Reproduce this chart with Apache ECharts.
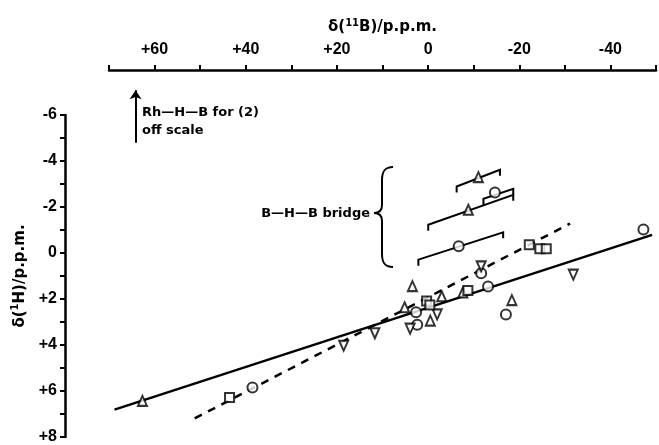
<!DOCTYPE html>
<html>
<head>
<meta charset="utf-8">
<script src="https://cdn.jsdelivr.net/npm/echarts@6/dist/echarts.min.js"></script>
<style>
  html, body { margin: 0; padding: 0; background: #fff; }
  #chart { width: 659px; height: 445px; }
</style>
</head>
<body>
<div id="chart"></div>
<script>
// x = δ(11B) / p.p.m., y = δ(1H) / p.p.m.
var circleX = [38.7, 3.0, 2.75, -11.2, -12.7, -16.6, -46.6, -14.2, -6.3];
var circleY = [5.85, 2.58, 3.12, 0.88, 1.46, 2.67, -1.02, -2.63, -0.29];

var triUpX = [62.7, 3.8, 5.5, -2.6, -0.1, -17.9, -7.2, -10.6, -8.4];
var triUpY = [6.43, 1.44, 2.36, 1.88, 2.94, 2.05, 1.72, -3.30, -1.88];

var triDownX = [18.8, 12.0, 4.3, -1.6, -11.2, -31.3];
var triDownY = [4.03, 3.49, 3.29, 2.67, 0.58, 0.94];

var squareX = [43.7, 0.7, 0.0, -8.3, -21.7, -24.0, -25.4];
var squareY = [6.28, 2.09, 2.26, 1.63, -0.36, -0.18, -0.18];

// B-H-B bridge ranges (start / end of each bar)
var bridgeX1 = [-5.85, -11.7, 0.35, 2.5];
var bridgeY1 = [-2.89, -2.36, -1.23, 0.29];
var bridgeX2 = [-15.3, -18.2, -18.2, -16.0];
var bridgeY2 = [-3.62, -2.79, -2.53, -0.90];

// fitted lines (end points)
var solidX = [68.8, -48.5];
var solidY = [6.81, -0.79];
var dashX = [51.3, -30.6];
var dashY = [7.19, -1.28];

// Rh-H-B arrow (off scale)
var arrowX = 64.2;
var arrowY = [-4.79, -7.08];

var xTicks = [-50, 70];
var yTicks = [-6, 8];

function zip(a, b) {
  return a.map(function (v, i) { return [v, b[i]]; });
}

var chart = echarts.init(document.getElementById('chart'));

var pointStyle = { color: '#fff', borderColor: '#000', borderWidth: 2 };
var braceStyle = { stroke: '#000', lineWidth: 2, fill: null };

var option = {
  backgroundColor: '#fff',
  animation: false,
  grid: [
    { left: 109, right: 0, top: 70, bottom: 7 },
    { left: 109, right: 0, top: 115, bottom: 7 }
  ],
  xAxis: [
    {
      gridIndex: 0,
      type: 'value',
      position: 'top',
      inverse: true,
      min: xTicks[0],
      max: xTicks[1],
      interval: 10,
      name: '{a|δ(}{s|11}{a|B)/p.p.m.}',
      nameLocation: 'middle',
      nameGap: 33,
      nameTextStyle: {
        rich: {
          a: { fontFamily: 'DejaVu Sans', fontWeight: 'bold', fontSize: 15, color: '#000' },
          s: { fontFamily: 'DejaVu Sans', fontWeight: 'bold', fontSize: 10, color: '#000', padding: [0, 0, 9, 0] }
        }
      },
      axisLine: { onZero: false, lineStyle: { color: '#000', width: 2.5 } },
      axisTick: { length: 5, lineStyle: { color: '#000', width: 2 } },
      axisLabel: {
        margin: 12,
        color: '#000',
        fontFamily: 'Liberation Sans',
        fontWeight: 'bold',
        fontSize: 16,
        formatter: function (v) {
          if (v % 20 !== 0) return '';
          return v > 0 ? '+' + v : String(v);
        }
      },
      splitLine: { show: false }
    },
    {
      gridIndex: 1,
      type: 'value',
      inverse: true,
      min: xTicks[0],
      max: xTicks[1],
      show: false
    }
  ],
  yAxis: [
    { gridIndex: 0, type: 'value', min: 0, max: 1, show: false },
    {
      gridIndex: 1,
      type: 'value',
      position: 'left',
      offset: 44,
      inverse: true,
      min: yTicks[0],
      max: yTicks[1],
      interval: 1,
      name: '{a|δ(}{s|1}{a|H)/p.p.m.}',
      nameLocation: 'middle',
      nameRotate: 90,
      nameGap: 30,
      nameTextStyle: {
        rich: {
          a: { fontFamily: 'DejaVu Sans', fontWeight: 'bold', fontSize: 15, color: '#000' },
          s: { fontFamily: 'DejaVu Sans', fontWeight: 'bold', fontSize: 10, color: '#000', padding: [0, 0, 9, 0] }
        }
      },
      axisLine: { onZero: false, lineStyle: { color: '#000', width: 2.5 } },
      axisTick: { length: 5, lineStyle: { color: '#000', width: 2 } },
      axisLabel: {
        margin: 8,
        color: '#000',
        fontFamily: 'Liberation Sans',
        fontWeight: 'bold',
        fontSize: 16,
        formatter: function (v) {
          if (v % 2 !== 0) return '';
          return v > 0 ? '+' + v : String(v);
        }
      },
      splitLine: { show: false }
    }
  ],
  graphic: [
    {
      type: 'text',
      style: { x: 142, y: 113, text: 'Rh—H—B for (2)', fill: '#000',
        font: 'bold 13px "DejaVu Sans"', textVerticalAlign: 'middle' }
    },
    {
      type: 'text',
      style: { x: 142, y: 131, text: 'off scale', fill: '#000',
        font: 'bold 13px "DejaVu Sans"', textVerticalAlign: 'middle' }
    },
    {
      type: 'text',
      style: { x: 370, y: 214, text: 'B—H—B bridge', fill: '#000',
        font: 'bold 13px "DejaVu Sans"', textAlign: 'right', textVerticalAlign: 'middle' }
    },
    // curly brace
    { type: 'bezierCurve', shape: { x1: 393, y1: 167, cpx1: 385, cpy1: 167, cpx2: 382, cpy2: 171, x2: 382, y2: 180 }, style: braceStyle },
    { type: 'line', shape: { x1: 382, y1: 180, x2: 382, y2: 205 }, style: braceStyle },
    { type: 'bezierCurve', shape: { x1: 382, y1: 205, cpx1: 382, cpy1: 210, cpx2: 379, cpy2: 213, x2: 374, y2: 213 }, style: braceStyle },
    { type: 'bezierCurve', shape: { x1: 374, y1: 213, cpx1: 379, cpy1: 213, cpx2: 382, cpy2: 216, x2: 382, y2: 221 }, style: braceStyle },
    { type: 'line', shape: { x1: 382, y1: 221, x2: 382, y2: 254 }, style: braceStyle },
    { type: 'bezierCurve', shape: { x1: 382, y1: 254, cpx1: 382, cpy1: 263, cpx2: 385, cpy2: 267, x2: 393, y2: 267 }, style: braceStyle }
  ],
  series: [
    {
      type: 'line',
      xAxisIndex: 1, yAxisIndex: 1,
      data: zip(solidX, solidY),
      symbol: 'none',
      lineStyle: { color: '#000', width: 2.5 },
      z: 1
    },
    {
      type: 'line',
      xAxisIndex: 1, yAxisIndex: 1,
      data: zip(dashX, dashY),
      symbol: 'none',
      lineStyle: { color: '#000', width: 2.5, type: [8, 7] },
      z: 1
    },
    {
      type: 'custom',
      xAxisIndex: 1, yAxisIndex: 1,
      data: bridgeX1.map(function (v, i) { return [v, bridgeY1[i], bridgeX2[i], bridgeY2[i]]; }),
      renderItem: function (params, api) {
        var p1 = api.coord([api.value(0), api.value(1)]);
        var p2 = api.coord([api.value(2), api.value(3)]);
        return {
          type: 'polyline',
          shape: { points: [[p1[0], p1[1] + 6], p1, p2, [p2[0], p2[1] + 6]] },
          style: { stroke: '#000', lineWidth: 2, fill: null }
        };
      },
      z: 1
    },
    {
      type: 'lines',
      coordinateSystem: 'cartesian2d',
      xAxisIndex: 1, yAxisIndex: 1,
      clip: false,
      symbol: ['none', 'arrow'],
      symbolSize: 9,
      lineStyle: { color: '#000', width: 2, opacity: 1 },
      data: [{ coords: [[arrowX, arrowY[0]], [arrowX, arrowY[1]]] }]
    },
    {
      type: 'scatter', name: 'circle',
      xAxisIndex: 1, yAxisIndex: 1,
      data: zip(circleX, circleY),
      symbol: 'circle', symbolSize: 10,
      itemStyle: pointStyle, z: 3
    },
    {
      type: 'scatter', name: 'triangle',
      xAxisIndex: 1, yAxisIndex: 1,
      data: zip(triUpX, triUpY),
      symbol: 'triangle', symbolSize: [9, 10],
      itemStyle: pointStyle, z: 3
    },
    {
      type: 'scatter', name: 'inverted triangle',
      xAxisIndex: 1, yAxisIndex: 1,
      data: zip(triDownX, triDownY),
      symbol: 'triangle', symbolRotate: 180, symbolSize: [9, 10],
      itemStyle: pointStyle, z: 3
    },
    {
      type: 'scatter', name: 'square',
      xAxisIndex: 1, yAxisIndex: 1,
      data: zip(squareX, squareY),
      symbol: 'rect', symbolSize: 9,
      itemStyle: pointStyle, z: 3
    }
  ]
};

chart.setOption(option);
</script>
</body>
</html>
